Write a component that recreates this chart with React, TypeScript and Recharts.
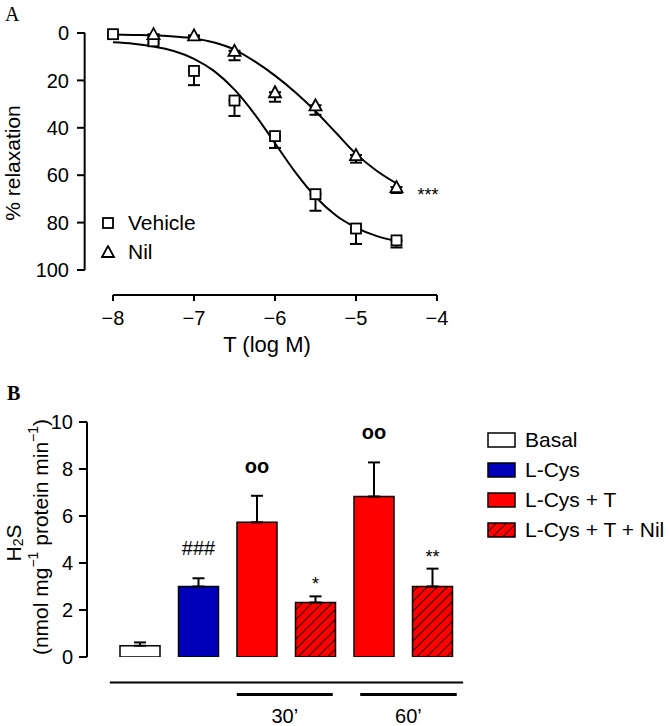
import React from 'react';
import {
  ComposedChart, Line, Scatter, Bar, Cell, XAxis, YAxis, ErrorBar,
  ReferenceLine, ReferenceDot, Legend, LabelList, Label,
} from 'recharts';

const FONT = '"Liberation Sans", Arial, Helvetica, sans-serif';

// ---- Panel A: relaxation curves ----
const vehicleDoses = [-8, -7.5, -7, -6.5, -6, -5.5, -5, -4.5];
const vehicleMean = [0.5, 3.5, 16, 28.5, 43.5, 68, 82.5, 87.5];
const vehicleSem = [0.5, 1, 6, 6.5, 5, 7, 6.5, 3];

const nilDoses = [-7.5, -7, -6.5, -6, -5.5, -5, -4.5];
const nilMean = [0.5, 1, 7.5, 25, 30.5, 51.5, 65];
const nilSem = [0.5, 0.5, 4, 4, 4, 3.2, 2.5];

// fitted curves
const fitDoses = [-8, -7.75, -7.5, -7.25, -7, -6.75, -6.5, -6.25, -6, -5.75, -5.5, -5.25, -5, -4.75, -4.5];
const vehicleFit = [3.9, 4.5, 5.7, 7.6, 10.9, 16.1, 23.9, 34.3, 46.5, 58.7, 69.1, 76.9, 82.1, 85.6, 87.8];
const nilFit = [0.6, 0.8, 1.0, 1.5, 2.3, 4.0, 7.0, 12.0, 18.0, 25.0, 33.0, 42.0, 51.0, 58.0, 63.5];

const seriesA = ['Vehicle', 'Nil'];
const xTicksA = [-8, -7, -6, -5, -4];
const yTicksA = [0, 20, 40, 60, 80, 100];

// ---- Panel B: H2S production ----
const groups = ['Basal', 'L-Cys', 'L-Cys + T', 'L-Cys + T + Nil', 'L-Cys + T', 'L-Cys + T + Nil'];
const times = ['', '', '30’', '30’', '60’', '60’'];
const h2sMean = [0.48, 3.0, 5.73, 2.32, 6.83, 3.0];
const h2sSem = [0.14, 0.35, 1.13, 0.26, 1.45, 0.76];
const marks = ['', '###', 'oo', '*', 'oo', '**'];
const yTicksB = [0, 2, 4, 6, 8, 10];
const legendB = ['Basal', 'L-Cys', 'L-Cys + T', 'L-Cys + T + Nil'];

const fitData = fitDoses.map((x, i) => ({ x, vehFit: vehicleFit[i], nilFit: nilFit[i] }));
const vehiclePts = vehicleDoses.map((x, i) => ({ x, y: vehicleMean[i], err: [0, vehicleSem[i]] }));
const nilPts = nilDoses.map((x, i) => ({ x, y: nilMean[i], err: [0, nilSem[i]] }));
const barData = groups.map((g, i) => ({
  name: `${g} ${times[i]}`.trim() + '#' + i,
  pos: i + 0.5,
  mean: h2sMean[i],
  err: [0, h2sSem[i]],
  mark: marks[i],
}));

const fillFor = (label: string) => {
  if (label === 'Basal') return '#ffffff';
  if (label === 'L-Cys') return '#0000b8';
  if (label.includes('Nil')) return 'url(#hatch)';
  return '#ff0000';
};

const squareShape = (p: any) => (
  <rect x={p.cx - 5} y={p.cy - 5} width={10} height={10} fill="#fff" stroke="#000" strokeWidth={1.8} />
);
const triangleShape = (p: any) => (
  <polygon
    points={`${p.cx},${p.cy - 6} ${p.cx - 6},${p.cy + 5} ${p.cx + 6},${p.cy + 5}`}
    fill="#fff" stroke="#000" strokeWidth={1.8}
  />
);

const legendA = () => (
  <div style={{ fontSize: 21, lineHeight: '29px', color: '#000', fontFamily: FONT }}>
    {seriesA.map((s, i) => (
      <div key={s} style={{ display: 'flex', alignItems: 'center' }}>
        <svg width={27} height={14}>
          {i === 0
            ? <rect x={2} y={2} width={10} height={10} fill="#fff" stroke="#000" strokeWidth={1.8} />
            : <polygon points="7,1 1,12 13,12" fill="#fff" stroke="#000" strokeWidth={1.8} />}
        </svg>
        {s}
      </div>
    ))}
  </div>
);

const legendBContent = () => (
  <div style={{ fontSize: 21, lineHeight: '30px', color: '#000', fontFamily: FONT }}>
    {legendB.map((s) => (
      <div key={s} style={{ display: 'flex', alignItems: 'center', whiteSpace: 'nowrap' }}>
        <svg width={38} height={16}>
          <rect x={1} y={1} width={27} height={14} fill={fillFor(s)} stroke="#000" strokeWidth={1.5} />
        </svg>
        {s}
      </div>
    ))}
  </div>
);

const renderMark = (props: any) => {
  const { x, y, width, height, index } = props;
  const mark = marks[index];
  if (!mark) return null;
  const perUnit = height / h2sMean[index];
  const top = y - h2sSem[index] * perUnit;
  const star = mark[0] === '*';
  return (
    <text
      x={x + width / 2}
      y={top - (star ? 6 : 23)}
      textAnchor="middle"
      fontSize={star ? 18 : 20}
      fontWeight={mark === 'oo' ? 'bold' : 'normal'}
      fill="#000"
    >
      {mark}
    </text>
  );
};

const tickStyle = { fontSize: 20, fill: '#000', fontFamily: FONT };
const tickLine = { stroke: '#000', strokeWidth: 2 };

export default function App() {
  return (
    <div style={{ position: 'absolute', left: 0, top: 0, width: 670, height: 726, background: '#fff', fontFamily: FONT }}>
      <div style={{ position: 'absolute', left: 5, top: 4, fontFamily: '"Liberation Serif", serif', fontSize: 20, lineHeight: 1 }}>A</div>
      <div style={{ position: 'absolute', left: 7, top: 383, fontFamily: '"Liberation Serif", serif', fontSize: 20, fontWeight: 'bold', lineHeight: 1 }}>B</div>

      <div style={{ position: 'absolute', left: 0, top: 0 }}>
        <ComposedChart width={480} height={370} data={fitData} margin={{ top: 33, right: 43, bottom: 15, left: 0 }}>
          <XAxis
            type="number" dataKey="x" domain={[-8, -4]} ticks={xTicksA}
            padding={{ left: 28, right: 0 }} height={60} axisLine={false}
            tickSize={6} tickMargin={10} tickLine={tickLine} tick={tickStyle}
            tickFormatter={(v: number) => '\u2212' + Math.abs(v)}
          >
            <Label value="T (log M)" position="insideBottom" offset={3} dx={6} fontSize={22} fill="#000" />
          </XAxis>
          <YAxis
            type="number" domain={[0, 100]} ticks={yTicksA} reversed
            padding={{ top: 0, bottom: 25 }} width={85} axisLine={false}
            tickSize={8} tickMargin={8} tickLine={tickLine} tick={tickStyle}
          >
            <Label
              content={() => (
                <text x={0} y={0} transform="translate(12,163) rotate(-90)" textAnchor="middle" dominantBaseline="central" fontSize={21} fill="#000">
                  % relaxation
                </text>
              )}
            />
          </YAxis>
          <ReferenceLine segment={[{ x: -8.35, y: 0 }, { x: -8.35, y: 100 }]} stroke="#000" strokeWidth={2} ifOverflow="visible" />
          <ReferenceLine segment={[{ x: -8, y: 110.6 }, { x: -4, y: 110.6 }]} stroke="#000" strokeWidth={2} ifOverflow="visible" />
          <Line dataKey="vehFit" type="monotone" dot={false} stroke="#000" strokeWidth={2} isAnimationActive={false} />
          <Line dataKey="nilFit" type="monotone" dot={false} stroke="#000" strokeWidth={2} isAnimationActive={false} />
          <Scatter name="Vehicle" data={vehiclePts} dataKey="y" shape={squareShape} isAnimationActive={false}>
            <ErrorBar dataKey="err" direction="y" width={6} stroke="#000" strokeWidth={2} />
          </Scatter>
          <Scatter name="Nil" data={nilPts} dataKey="y" shape={triangleShape} isAnimationActive={false}>
            <ErrorBar dataKey="err" direction="y" width={6} stroke="#000" strokeWidth={2} />
          </Scatter>
          <ReferenceDot x={-4.11} y={68} r={0.1} fill="none" stroke="none" ifOverflow="visible">
            <Label value="***" position="center" fontSize={18} fill="#000" />
          </ReferenceDot>
          <Legend
            layout="vertical" align="center" verticalAlign="middle"
            content={legendA} wrapperStyle={{ left: 101, top: 208, width: 120 }}
          />
        </ComposedChart>
      </div>

      <div style={{ position: 'absolute', left: 0, top: 380 }}>
        <ComposedChart width={670} height={346} data={barData} margin={{ top: 42, right: 208, bottom: 69, left: 0 }}>
          <defs>
            <pattern id="hatch" patternUnits="userSpaceOnUse" width={7} height={7} patternTransform="rotate(45)">
              <rect width={7} height={7} fill="#ff0000" />
              <line x1={0} y1={0} x2={0} y2={7} stroke="#000" strokeWidth={1.8} />
            </pattern>
          </defs>
          <XAxis dataKey="name" hide padding={{ left: 24, right: 0 }} />
          <XAxis xAxisId="n" dataKey="pos" type="number" domain={[0, 6]} allowDataOverflow hide padding={{ left: 24, right: 0 }} />
          <YAxis
            type="number" domain={[0, 10]} ticks={yTicksB} allowDataOverflow width={87}
            axisLine={{ stroke: '#000', strokeWidth: 2 }} tickSize={8} tickMargin={6}
            tickLine={tickLine} tick={tickStyle}
          >
            <Label
              content={() => (
                <g fill="#000" fontSize={21}>
                  <text x={0} y={0} transform="translate(13,163) rotate(-90)" textAnchor="middle" dominantBaseline="central">
                    H<tspan fontSize={14} dy={5}>2</tspan><tspan dy={-5}>S</tspan>
                  </text>
                  <text x={0} y={0} transform="translate(40,157) rotate(-90)" textAnchor="middle" dominantBaseline="central">
                    (nmol mg<tspan fontSize={14} dy={-7}>{'\u22121'}</tspan>
                    <tspan dy={7}> protein min</tspan>
                    <tspan fontSize={14} dy={-7}>{'\u22121'}</tspan>
                    <tspan dy={7}>)</tspan>
                  </text>
                </g>
              )}
            />
          </YAxis>
          <Bar dataKey="mean" barSize={40} stroke="#000" strokeWidth={1.5} isAnimationActive={false}>
            {barData.map((d, i) => (
              <Cell key={d.name} fill={fillFor(groups[i])} />
            ))}
            <ErrorBar dataKey="err" direction="y" width={6} stroke="#000" strokeWidth={2} />
            <LabelList dataKey="mark" content={renderMark} />
          </Bar>
          <ReferenceLine xAxisId="n" segment={[{ x: -0.02, y: -1.09 }, { x: 6.02, y: -1.09 }]} stroke="#000" strokeWidth={2} ifOverflow="visible" />
          <ReferenceLine xAxisId="n" segment={[{ x: 2.15, y: -1.6 }, { x: 3.79, y: -1.6 }]} stroke="#000" strokeWidth={3} ifOverflow="visible">
            <Label value={times[2]} position="bottom" offset={14} fontSize={20} fill="#000" />
          </ReferenceLine>
          <ReferenceLine xAxisId="n" segment={[{ x: 4.26, y: -1.6 }, { x: 5.91, y: -1.6 }]} stroke="#000" strokeWidth={3} ifOverflow="visible">
            <Label value={times[4]} position="bottom" offset={14} fontSize={20} fill="#000" />
          </ReferenceLine>
          <Legend
            layout="vertical" align="center" verticalAlign="middle"
            content={legendBContent} wrapperStyle={{ left: 487, top: 45, width: 183 }}
          />
        </ComposedChart>
      </div>
    </div>
  );
}
